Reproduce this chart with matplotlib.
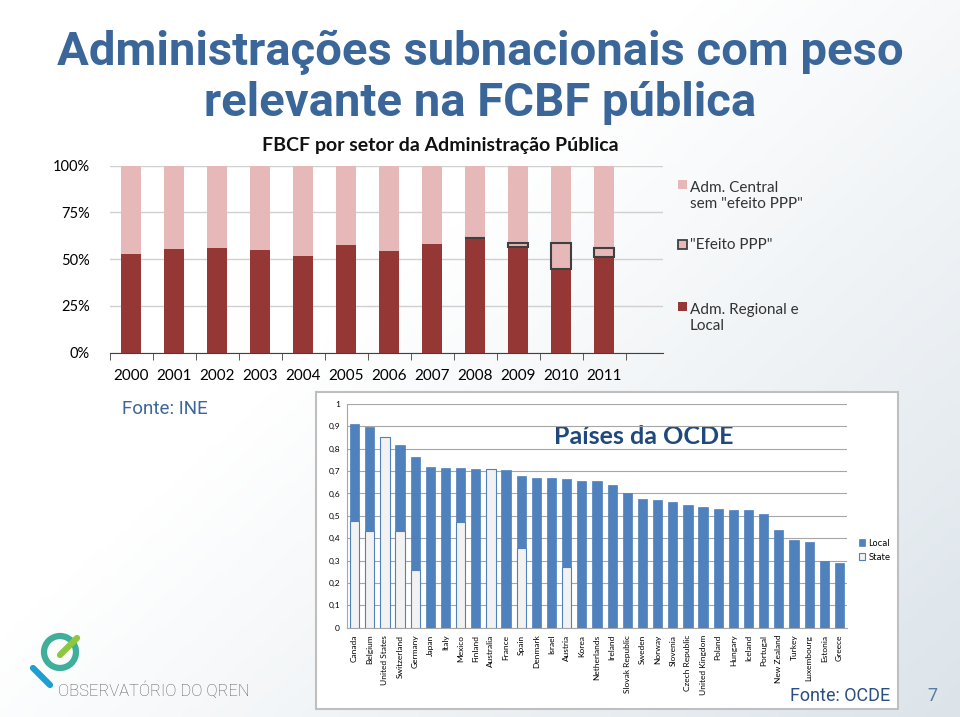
import numpy as np
import matplotlib.pyplot as plt
from matplotlib.patches import Rectangle, Circle

# ---- data: FBCF por setor (% of total) ----
anos = ['2000', '2001', '2002', '2003', '2004', '2005',
        '2006', '2007', '2008', '2009', '2010', '2011']
regional_local = [52.8, 55.4, 56.0, 54.9, 51.7, 57.8, 54.2, 57.9, 61.1, 56.7, 44.9, 51.2]
efeito_ppp = [0, 0, 0, 0, 0, 0, 0, 0, 0.5, 1.8, 13.5, 5.0]

# ---- data: OECD countries, subnational share ----
paises = ['Canada', 'Belgium', 'United States', 'Switzerland', 'Germany', 'Japan',
          'Italy', 'Mexico', 'Finland', 'Australia', 'France', 'Spain', 'Denmark',
          'Israel', 'Austria', 'Korea', 'Netherlands', 'Ireland', 'Slovak Republic',
          'Sweden', 'Norway', 'Slovenia', 'Czech Republic', 'United Kingdom', 'Poland',
          'Hungary', 'Iceland', 'Portugal', 'New Zealand', 'Turkey', 'Luxembourg',
          'Estonia', 'Greece']
total = [0.912, 0.899, 0.851, 0.817, 0.765, 0.718, 0.712, 0.712, 0.709, 0.709, 0.706,
         0.679, 0.670, 0.670, 0.666, 0.655, 0.655, 0.636, 0.600, 0.577, 0.572, 0.560,
         0.550, 0.541, 0.532, 0.526, 0.526, 0.510, 0.435, 0.391, 0.385, 0.296, 0.287]
state = [0.475, 0.431, 0.851, 0.432, 0.256, 0, 0, 0.471, 0, 0.709, 0,
         0.355, 0, 0, 0.273, 0, 0, 0, 0, 0, 0, 0,
         0, 0, 0, 0, 0, 0, 0, 0, 0, 0, 0]

W, H = 960, 717
SANS = 'Lato'
DIN = 'Roboto'
c_dark = '#953735'
c_pink = '#E6B9B8'
c_title = '#3A6699'


def box(x0, y0, x1, y1):
    return [x0 / W, 1 - y1 / H, (x1 - x0) / W, (y1 - y0) / H]


fig = plt.figure(figsize=(9.6, 7.17), dpi=100)

# slide background, pixel coordinates
bg = fig.add_axes([0, 0, 1, 1], zorder=0)
bg.set_xlim(0, W)
bg.set_ylim(H, 0)
bg.axis('off')
gx, gy = np.meshgrid(np.linspace(0, 1, 200), np.linspace(0, 1, 150))
grad = np.clip(0.55 * gx + 0.45 * gy - 0.4, 0, 1)
bg.imshow(grad, extent=(0, W, H, 0), cmap=plt.cm.colors.LinearSegmentedColormap.from_list(
    'bgc', ['#FFFFFF', '#DCE4EA']), aspect='auto', zorder=0)

bg.text(480, 52, 'Administrações subnacionais com peso', ha='center', va='center',
        fontsize=34, fontweight='bold', color=c_title, family=DIN)
bg.text(480, 103, 'relevante na FCBF pública', ha='center', va='center',
        fontsize=34, fontweight='bold', color=c_title, family=DIN)
bg.text(440, 145, 'FBCF por setor da Administração Pública', ha='center', va='center',
        fontsize=14, fontweight='bold', color='#111111', family=SANS)

# top legend
bg.add_patch(Rectangle((678, 180), 9, 9, facecolor=c_pink, edgecolor='none'))
bg.text(690, 196, 'Adm. Central\nsem "efeito PPP"', va='center', ha='left', fontsize=11,
        color='#333333', family=SANS, linespacing=1.25)
bg.add_patch(Rectangle((678, 240), 9, 9, facecolor=c_pink, edgecolor='#404040', lw=1.3))
bg.text(690, 245, '"Efeito PPP"', va='center', ha='left', fontsize=11, color='#333333',
        family=SANS)
bg.add_patch(Rectangle((678, 302), 9, 9, facecolor=c_dark, edgecolor='none'))
bg.text(690, 318, 'Adm. Regional e\nLocal', va='center', ha='left', fontsize=11,
        color='#333333', family=SANS, linespacing=1.25)

bg.text(122, 409, 'Fonte: INE', ha='left', va='center', fontsize=13.5, color=c_title,
        family=DIN)

# frame of the OECD picture
bg.add_patch(Rectangle((316, 392), 582, 317, facecolor='white', edgecolor='#BFBFBF', lw=1.5))
bg.text(644, 436, 'Países da OCDE', ha='center', va='center', fontsize=18,
        fontweight='bold', color='#1F497D', family=SANS)
bg.text(890, 696, 'Fonte: OCDE', ha='right', va='center', fontsize=13, color='#2A4E7F',
        family=DIN)
bg.text(932, 696, '7', ha='center', va='center', fontsize=13, color='#5B7BA0', family=DIN)

# logo
bg.add_patch(Circle((60, 652), 16, fill=False, edgecolor='#3FAE9A', lw=4.5))
bg.plot([60, 77], [655, 638], color='#8DC63F', lw=4.5, solid_capstyle='round')
bg.plot([33, 50], [668, 685], color='#1E9FD3', lw=4.5, solid_capstyle='round')
bg.text(58, 690, 'OBSERVATÓRIO DO QREN', ha='left', va='center', fontsize=12,
        fontweight='light', color='#5A5A5A', family=DIN)

# ---- top chart ----
ax = fig.add_axes(box(109.5, 165.7, 663, 352.7), zorder=2)
ax.patch.set_alpha(0)
x = np.arange(len(anos))
central = [100 - r for r in regional_local]
ax.bar(x, regional_local, width=0.48, color=c_dark, zorder=3)
ax.bar(x, central, width=0.48, bottom=regional_local, color=c_pink, zorder=3)
for i in range(len(anos)):
    if efeito_ppp[i] > 0:
        ax.bar(x[i], efeito_ppp[i], width=0.48, bottom=regional_local[i],
               facecolor=c_pink, edgecolor='#404040', lw=1.5, zorder=4)
ax.set_xlim(-0.5, 12.37)
ax.set_ylim(0, 100)
ax.set_yticks([0, 25, 50, 75, 100])
ax.set_yticklabels(['0%', '25%', '50%', '75%', '100%'], family=SANS, fontsize=10.5)
ax.set_xticks(x)
ax.set_xticklabels(anos, family=SANS, fontsize=11)
ax.set_xticks(np.arange(-0.5, 12, 1), minor=True)
ax.tick_params(axis='x', which='major', length=0, pad=12)
ax.tick_params(axis='x', which='minor', length=5, color='#404040')
ax.tick_params(axis='y', length=0, pad=14)
ax.yaxis.grid(True, color='#D0D0D0', lw=1, zorder=0)
for s in ['top', 'right', 'left']:
    ax.spines[s].set_visible(False)
ax.spines['bottom'].set_color('#404040')

# ---- OECD chart ----
ax2 = fig.add_axes(box(347, 404, 847, 627.7), zorder=2)
ax2.patch.set_alpha(0)
xp = np.arange(len(paises))
local = [t - s for t, s in zip(total, state)]
ax2.bar(xp, state, width=0.61, color='#F2F2F2', edgecolor='#4F81BD', lw=0.8,
        label='State', zorder=3)
ax2.bar(xp, local, width=0.61, bottom=state, color='#4F81BD', edgecolor='#4F81BD', lw=0.5,
        label='Local', zorder=3)
ax2.set_xlim(-0.5, len(paises) - 0.5)
ax2.set_ylim(0, 1)
yt = np.arange(0, 1.01, 0.1)
ax2.set_yticks(yt)
ax2.set_yticklabels(['0', '0,1', '0,2', '0,3', '0,4', '0,5', '0,6', '0,7', '0,8', '0,9', '1'],
                    fontsize=6, family=SANS)
ax2.set_xticks(xp)
ax2.set_xticklabels(paises, rotation=90, fontsize=6, family=SANS)
ax2.tick_params(length=0, pad=5)
ax2.yaxis.grid(True, color='#A6A6A6', lw=0.8, zorder=0)
for s in ['top', 'right']:
    ax2.spines[s].set_visible(False)
ax2.spines['left'].set_color('#A6A6A6')
ax2.spines['bottom'].set_color('#A6A6A6')
h, l = ax2.get_legend_handles_labels()
ax2.legend(h[::-1], l[::-1], loc='center left', bbox_to_anchor=(851 / W, 1 - 550 / H),
           bbox_transform=fig.transFigure, frameon=False, fontsize=6, handlelength=0.8,
           handleheight=0.8, handletextpad=0.4, labelspacing=0.6)

fig.savefig('out.png', dpi=100)
